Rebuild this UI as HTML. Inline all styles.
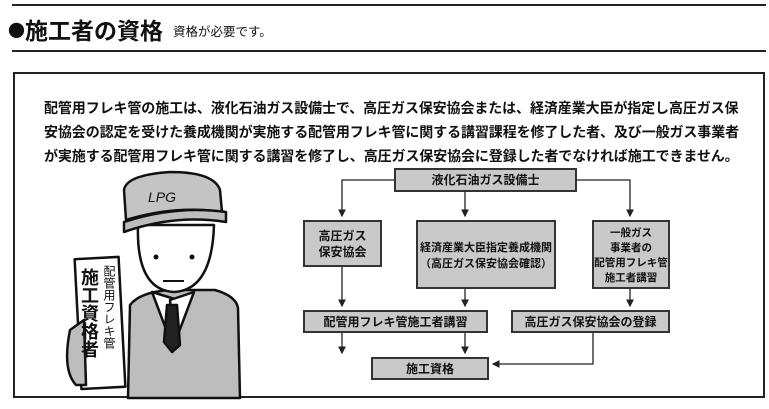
<!DOCTYPE html>
<html><head><meta charset="utf-8"><style>
body{margin:0;width:769px;height:409px;background:#fff;position:relative;overflow:hidden;font-family:"Noto Sans CJK JP",sans-serif;color:#111}
.a{position:absolute}
.b{position:absolute;background:#c9c9c9;border:2px solid #333;box-sizing:border-box;display:flex;align-items:center;justify-content:center;text-align:center;font-size:12px;line-height:16px;font-weight:bold;color:#111;white-space:nowrap}
</style></head><body>
<div class="a" style="left:12px;top:4px;width:754px;height:2px;background:#222"></div>
<div class="a" style="left:8px;top:13px;font-size:23px;font-weight:bold;line-height:32px;white-space:nowrap"><span style="font-size:17px;vertical-align:2px">●</span>施工者の資格<span style="font-size:12.5px;font-weight:normal;margin-left:10px;vertical-align:3px">資格が必要です。</span></div>
<div class="a" style="left:12px;top:50px;width:754px;height:2px;background:#222"></div>
<div class="a" style="left:13px;top:72px;width:752px;height:326px;border:2px solid #222;box-sizing:border-box"></div>
<div class="a" style="left:44px;top:96px;width:700px;font-size:14px;line-height:24px;font-weight:bold;white-space:nowrap;letter-spacing:-0.1px">配管用フレキ管の施工は、液化石油ガス設備士で、高圧ガス保安協会または、経済産業大臣が指定し高圧ガス保<br>安協会の認定を受けた養成機関が実施する配管用フレキ管に関する講習課程を修了した者、及び一般ガス事業者<br>が実施する配管用フレキ管に関する講習を修了し、高圧ガス保安協会に登録した者でなければ施工できません。</div>

<svg class="a" style="left:0;top:0" width="769" height="409">
<defs><marker id="m" markerWidth="6" markerHeight="6" refX="5" refY="3" orient="auto"><path d="M0,0L6,3L0,6z" fill="#222"/></marker></defs>
<g stroke="#222" stroke-width="1.3" fill="none">
<path d="M394,180H342V216" marker-end="url(#m)"/>
<path d="M465,192V216" marker-end="url(#m)"/>
<path d="M577,180H630V216" marker-end="url(#m)"/>
<path d="M342,267V306" marker-end="url(#m)"/>
<path d="M465,289V306" marker-end="url(#m)"/>
<path d="M630,289V306" marker-end="url(#m)"/>
<path d="M342,333V353" marker-end="url(#m)"/>
<path d="M465,333V353" marker-end="url(#m)"/>
<path d="M593,333V364H493" marker-end="url(#m)"/>
</g>
<g stroke="#111" stroke-width="2.5" stroke-linejoin="round">
<path d="M128,398 L130,305 Q140,292 170,290 L215,290 Q236,296 238,308 L240,398Z" fill="#bdbdbd"/>
<path d="M152,292 L172,345 L178,300 Z" fill="#fff"/>
<path d="M194,292 L174,345 L170,300 Z" fill="#fff"/>
<path d="M167,305 L177,305 L180,345 L172,352 L164,342Z" fill="#222"/>
<path d="M138,225 Q136,290 174,292 Q212,290 214,225Z" fill="#fff"/>
<path d="M124,190 Q126,175 170,172 Q214,172 220,190 L222,212 Q175,205 126,220Z" fill="#c4c4c4"/>
<path d="M124,222 Q175,205 226,212 L226,222 Q175,214 124,232Z" fill="#bdbdbd"/>
<rect x="78" y="258" width="44" height="130" fill="#fff" transform="rotate(-3 99 323)"/>
<path d="M70,330 Q62,370 76,385 L86,385 L84,320Z" fill="#bdbdbd"/>
</g>
<circle cx="156" cy="257" r="2.5" fill="#111"/><circle cx="192" cy="257" r="2.5" fill="#111"/>
<path d="M163,281 H184" stroke="#111" stroke-width="2"/>
<text x="148" y="202" font-size="14" font-style="italic" font-family="Liberation Sans" fill="#111">LPG</text>
</svg>
<div class="a" style="left:80px;top:268px;font-size:18px;line-height:20px;width:20px;font-weight:bold;writing-mode:vertical-rl">施工資格者</div>
<div class="a" style="left:102px;top:265px;font-size:12px;line-height:14px;width:14px;writing-mode:vertical-rl">配管用フレキ管</div>

<div class="b" style="left:394px;top:168px;width:183px;height:24px">液化石油ガス設備士</div>
<div class="b" style="left:303px;top:220px;width:79px;height:47px">高圧ガス<br>保安協会</div>
<div class="b" style="left:416px;top:220px;width:140px;height:69px;font-size:11px">経済産業大臣指定養成機関<br>（高圧ガス保安協会確認）</div>
<div class="b" style="left:592px;top:220px;width:78px;height:69px;font-size:10.5px;line-height:15px">一般ガス<br>事業者の<br>配管用フレキ管<br>施工者講習</div>
<div class="b" style="left:303px;top:310px;width:185px;height:23px">配管用フレキ管施工者講習</div>
<div class="b" style="left:511px;top:310px;width:159px;height:23px">高圧ガス保安協会の登録</div>
<div class="b" style="left:371px;top:357px;width:118px;height:23px">施工資格</div>
</body></html>
